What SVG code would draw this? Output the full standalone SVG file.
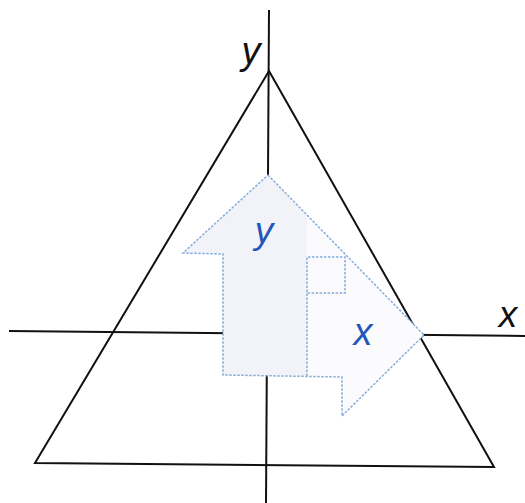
<svg xmlns="http://www.w3.org/2000/svg" width="525" height="503" viewBox="0 0 525 503">
<style>
.ax{stroke:#111;stroke-width:2;fill:none;stroke-linecap:butt}
.dash{stroke:#86acd8;stroke-width:1.5;fill:none;stroke-dasharray:2.5 1.5}
.lbl{font-family:"Liberation Sans",Arial,sans-serif;font-style:italic;text-anchor:middle}
</style>
<rect width="525" height="503" fill="#ffffff"/>
<g id="connectors">
<line class="ax" x1="269" y1="10" x2="266" y2="503"/>
<line class="ax" x1="9" y1="331" x2="525" y2="336"/>
</g>
<g id="triangle">
<polygon class="ax" points="269,71 35,463 494,467"/>
</g>
<g id="arrow-y">
<polygon points="268,175 183,253 223,254 223,375 307,376 307,215" fill="#f2f3f9"/>
</g>
<g id="arrow-x">
<polygon points="307,215 424,335 342,416 342,377 307,376" fill="#fbfbfd"/>
</g>
<g id="outline">
<path class="dash" d="M268,175 L424,335 L342,416 L342,377 L223,375 L223,254 L183,253 Z"/>
<path class="dash" d="M307,376 L307,257 L345,257 L345,293 L307,293"/>
</g>
<g id="labels">
<text class="lbl" x="264" y="243" font-size="37" fill="#2456b8">y</text>
<text class="lbl" x="363" y="345" font-size="38" fill="#2456b8">x</text>
<text class="lbl" x="251" y="64" font-size="38" fill="#111">y</text>
<text class="lbl" x="508" y="327" font-size="37" fill="#111">x</text>
</g>
</svg>
